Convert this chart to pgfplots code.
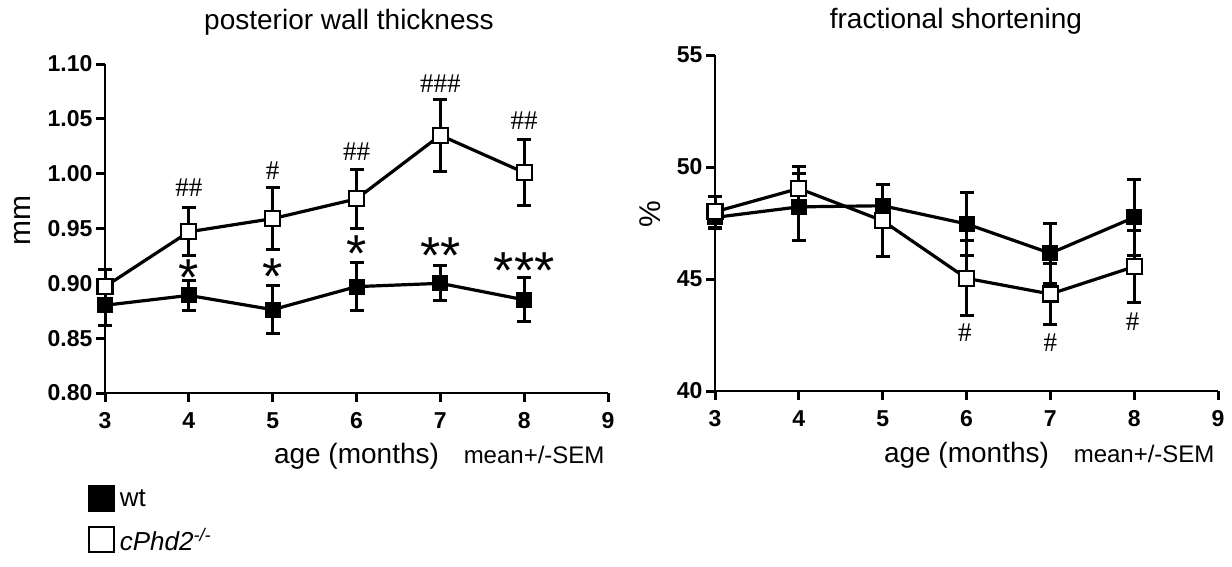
\documentclass[border=0pt]{standalone}
\usepackage{fontspec}
\setmainfont{Liberation Sans}
\newfontfamily\seriffont{Liberation Serif}
\usepackage{pgfplots}
\pgfplotsset{compat=1.18}

% left panel: posterior wall thickness (mm)
\pgfplotstableread{
x  y      e
3  0.880  0.018
4  0.889  0.014
5  0.876  0.022
6  0.897  0.022
7  0.900  0.016
8  0.885  0.020
}\pwtWT
\pgfplotstableread{
x  y      e
3  0.897  0.016
4  0.947  0.022
5  0.959  0.028
6  0.977  0.027
7  1.035  0.033
8  1.001  0.030
}\pwtKO
% right panel: fractional shortening (%)
\pgfplotstableread{
x  y      e
3  47.75  0.50
4  48.22  1.50
5  48.27  0.95
6  47.46  1.39
7  46.15  1.34
8  47.75  1.71
}\fsWT
\pgfplotstableread{
x  y      e
3  48.00  0.70
4  49.04  1.00
5  47.60  1.60
6  45.03  1.68
7  44.33  1.35
8  45.55  1.61
}\fsKO

\pgfplotsset{
  prism/.style={
    scale only axis,
    width=503pt,
    axis lines=left,
    axis line style={-,line width=2pt},
    xmin=3,xmax=9,
    xtick={3,4,5,6,7,8,9},
    tick align=outside,
    major tick length=9pt,
    every tick/.style={black,line width=3pt},
    tick label style={font=\fontsize{23}{26}\selectfont\bfseries},
    xticklabel style={yshift=-7pt},
    /pgf/number format/assume math mode=true,
    clip=false,
    title style={font=\fontsize{28}{32}\selectfont,anchor=base},
    xlabel style={font=\fontsize{28}{32}\selectfont,anchor=base},
    ylabel style={font=\fontsize{30}{34}\selectfont,anchor=center},
  },
  sem/.style={
    error bars/y dir=both,error bars/y explicit,
    error bars/error bar style={line width=3pt},
    error bars/error mark options={rotate=90,mark size=7pt,line width=3pt}},
  wt/.style={black,line width=3.2pt,mark=square*,mark size=7.5pt,
    mark options={fill=black,line width=1pt},sem},
  ko/.style={black,line width=3.2pt,mark=square*,mark size=7.5pt,
    mark options={fill=white,line width=2.2pt},sem},
}

\begin{document}
\begin{tikzpicture}
\path[use as bounding box] (0,0) rectangle (1232pt,566pt);

\begin{axis}[prism,
  at={(105pt,173pt)},anchor=south west,
  height=329pt,
  ymin=0.8,ymax=1.1,
  ytick={0.8,0.85,0.9,0.95,1.0,1.05,1.1},
  yticklabel style={/pgf/number format/.cd,fixed,fixed zerofill,precision=2},
  title={posterior wall thickness},
  title style={at={(axis description cs:0.485,1.088)}},
  xlabel={age (months)},
  xlabel style={at={(axis description cs:0.5,-0.213)}},
  ylabel={mm},
  ylabel style={at={(axis description cs:-0.165,0.523)}},
  legend style={at={(axis description cs:-0.035,-0.279)},anchor=north west,
    draw=none,fill=none,inner sep=0pt,
    font=\fontsize{26}{30}\selectfont,row sep=14pt},
  legend cell align=left,
]
\addlegendimage{legend image code/.code={\draw[line width=2pt,fill=black] (0pt,-12pt) rectangle (25pt,13pt);\path (29pt,0pt);}}
\addlegendentry{wt}
\addlegendimage{legend image code/.code={\draw[line width=2pt,fill=white] (0pt,-12pt) rectangle (25pt,13pt);\path (29pt,0pt);}}
\addlegendentry{\textit{cPhd2}\textsuperscript{\textit{-/-}}}

\addplot[wt,forget plot] table[x=x,y=y,y error=e] {\pwtWT};
\addplot[ko,forget plot] table[x=x,y=y,y error=e] {\pwtKO};

\node[anchor=base east,font=\fontsize{24}{28}\selectfont] at (axis description cs:1,-0.213) {mean+/-SEM};

% significance marks
\begin{scope}[every node/.style={font=\seriffont\fontsize{27}{30}\selectfont,inner sep=0pt}]
\node at (axis cs:4,0.987) {\#\#};
\node at (axis cs:5,1.003) {\#};
\node at (axis cs:6,1.020) {\#\#};
\node at (axis cs:7,1.082) {\#\#\#};
\node at (axis cs:8,1.048) {\#\#};
\end{scope}
\begin{scope}[every node/.style={font=\fontsize{52}{52}\selectfont,inner sep=0pt,anchor=north}]
\node at (axis cs:4,0.922) {*};
\node at (axis cs:5,0.923) {*};
\node at (axis cs:6,0.944) {*};
\node at (axis cs:7,0.942) {**};
\node at (axis cs:8,0.928) {***};
\end{scope}
\end{axis}

\begin{axis}[prism,
  at={(715pt,175pt)},anchor=south west,
  height=336pt,
  ymin=40,ymax=55,
  ytick={40,45,50,55},
  title={fractional shortening},
  title style={at={(axis description cs:0.479,1.06)}},
  xlabel={age (months)},
  xlabel style={at={(axis description cs:0.5,-0.214)}},
  ylabel={\%},
  ylabel style={at={(axis description cs:-0.129,0.527)}},
]
\addplot[wt] table[x=x,y=y,y error=e] {\fsWT};
\addplot[ko] table[x=x,y=y,y error=e] {\fsKO};

\node[anchor=base east,font=\fontsize{24}{28}\selectfont] at (axis description cs:1,-0.214) {mean+/-SEM};

\begin{scope}[every node/.style={font=\seriffont\fontsize{27}{30}\selectfont,inner sep=0pt}]
\node at (axis cs:5.98,42.59) {\#};
\node at (axis cs:7.0,42.16) {\#};
\node at (axis cs:7.98,43.10) {\#};
\end{scope}
\end{axis}
\end{tikzpicture}
\end{document}
